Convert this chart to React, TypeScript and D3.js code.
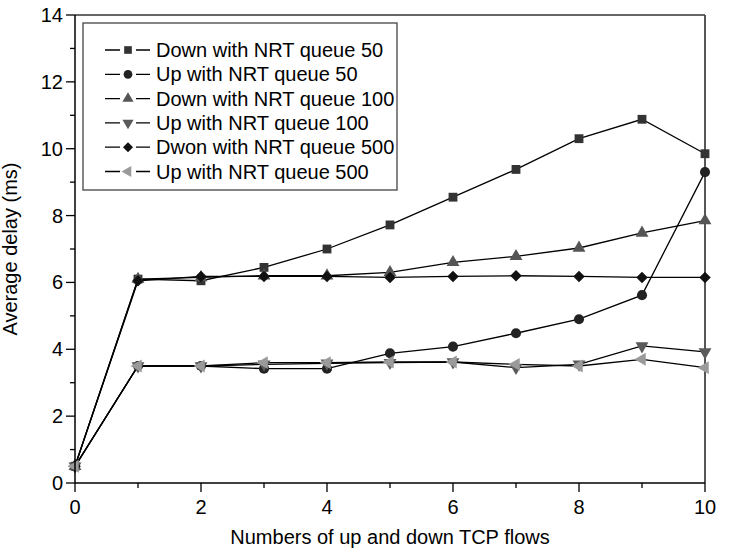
import React from "react";
import * as d3 from "d3";

// Numbers of up and down TCP flows
const flows = [0, 1, 2, 3, 4, 5, 6, 7, 8, 9, 10];

// Average delay (ms) per series
const down50 = [0.5, 6.1, 6.05, 6.45, 7.0, 7.72, 8.55, 9.38, 10.3, 10.88, 9.85];
const up50 = [0.5, 3.5, 3.5, 3.42, 3.42, 3.88, 4.08, 4.48, 4.9, 5.62, 9.3];
const down100 = [0.5, 6.1, 6.15, 6.2, 6.2, 6.3, 6.6, 6.78, 7.03, 7.48, 7.85];
const up100 = [0.5, 3.5, 3.5, 3.55, 3.58, 3.6, 3.62, 3.45, 3.55, 4.1, 3.92];
const down500 = [0.5, 6.05, 6.18, 6.18, 6.18, 6.15, 6.18, 6.2, 6.18, 6.15, 6.15];
const up500 = [0.5, 3.5, 3.5, 3.6, 3.6, 3.62, 3.62, 3.55, 3.5, 3.7, 3.45];

const seriesNames = [
  "Down with NRT queue 50",
  "Up with NRT queue 50",
  "Down with NRT queue 100",
  "Up with NRT queue 100",
  "Dwon with NRT queue 500",
  "Up with NRT queue 500",
];

const xTicks = [0, 2, 4, 6, 8, 10];
const xMinorTicks = [1, 3, 5, 7, 9];
const yTicks = [0, 2, 4, 6, 8, 10, 12, 14];
const yMinorTicks = [1, 3, 5, 7, 9, 11, 13];

type MarkerKind = "square" | "circle" | "triUp" | "triDown" | "diamond" | "triLeft";

const series: { name: string; values: number[]; marker: MarkerKind; fill: string }[] = [
  { name: seriesNames[0], values: down50, marker: "square", fill: "#333333" },
  { name: seriesNames[1], values: up50, marker: "circle", fill: "#222222" },
  { name: seriesNames[2], values: down100, marker: "triUp", fill: "#555555" },
  { name: seriesNames[3], values: up100, marker: "triDown", fill: "#5a5a5a" },
  { name: seriesNames[4], values: down500, marker: "diamond", fill: "#111111" },
  { name: seriesNames[5], values: up500, marker: "triLeft", fill: "#9a9a9a" },
];

const W = 732;
const H = 551;
const margin = { left: 75, right: 27, top: 15, bottom: 68 };
const FONT = "'Liberation Sans', Arial, Helvetica, sans-serif";
const FS = 20;

function markerPath(kind: MarkerKind, scale: number): { d: string; rotate: number } {
  switch (kind) {
    case "square":
      return { d: d3.symbol(d3.symbolSquare, 78 * scale)()!, rotate: 0 };
    case "circle":
      return { d: d3.symbol(d3.symbolCircle, 80 * scale)()!, rotate: 0 };
    case "triUp":
      return { d: d3.symbol(d3.symbolTriangle, 72 * scale)()!, rotate: 0 };
    case "triDown":
      return { d: d3.symbol(d3.symbolTriangle, 72 * scale)()!, rotate: 180 };
    case "triLeft":
      return { d: d3.symbol(d3.symbolTriangle, 72 * scale)()!, rotate: -90 };
    case "diamond":
      return { d: d3.symbol(d3.symbolSquare, 66 * scale)()!, rotate: 45 };
  }
}

export default function App() {
  const x = d3.scaleLinear().domain([0, 10]).range([margin.left, W - margin.right]);
  const y = d3.scaleLinear().domain([0, 14]).range([H - margin.bottom, margin.top]);
  const line = d3
    .line<number>()
    .x((_, i) => x(flows[i]))
    .y((v) => y(v));

  const x0 = x(0);
  const x1 = x(10);
  const y0 = y(0);
  const y1 = y(14);

  const legend = { left: 83, top: 23, right: 397, bottom: 190, rowY0: 50, rowStep: 24.3 };

  return (
    <svg width={W} height={H} style={{ position: "absolute", left: 0, top: 0, background: "#fff" }}>
      <rect x={0} y={0} width={W} height={H} fill="#fff" />

      {/* frame: top and right edges */}
      <line x1={x0} x2={x1} y1={y1} y2={y1} stroke="#333" strokeWidth={1.5} />
      <line x1={x1} x2={x1} y1={y1} y2={y0} stroke="#444" strokeWidth={1.8} />

      {/* series lines */}
      {series.map((s) => (
        <path key={s.name + "-line"} d={line(s.values)!} fill="none" stroke="#000" strokeWidth={1.3} />
      ))}

      {/* series markers */}
      {series.map((s) => {
        const m = markerPath(s.marker, 1);
        return (
          <g key={s.name + "-pts"}>
            {s.values.map((v, i) => (
              <path
                key={i}
                d={m.d}
                transform={`translate(${x(flows[i])},${y(v)}) rotate(${m.rotate})`}
                fill={s.fill}
              />
            ))}
          </g>
        );
      })}

      {/* left axis */}
      <line x1={x0} x2={x0} y1={y1} y2={y0} stroke="#000" strokeWidth={1.5} />
      {yTicks.map((t) => (
        <g key={"yt" + t}>
          <line x1={x0 - 9} x2={x0} y1={y(t)} y2={y(t)} stroke="#000" strokeWidth={1.3} />
          <text
            x={x0 - 12}
            y={y(t)}
            dy="0.35em"
            textAnchor="end"
            fontFamily={FONT}
            fontSize={FS}
            fill="#000"
          >
            {t}
          </text>
        </g>
      ))}
      {yMinorTicks.map((t) => (
        <line key={"ym" + t} x1={x0 - 5} x2={x0} y1={y(t)} y2={y(t)} stroke="#000" strokeWidth={1.3} />
      ))}

      {/* bottom axis */}
      <line x1={x0} x2={x1} y1={y0} y2={y0} stroke="#000" strokeWidth={1.5} />
      {xTicks.map((t) => (
        <g key={"xt" + t}>
          <line x1={x(t)} x2={x(t)} y1={y0} y2={y0 + 9} stroke="#000" strokeWidth={1.3} />
          <text
            x={x(t)}
            y={y0 + 31}
            textAnchor="middle"
            fontFamily={FONT}
            fontSize={FS}
            fill="#000"
          >
            {t}
          </text>
        </g>
      ))}
      {xMinorTicks.map((t) => (
        <line key={"xm" + t} x1={x(t)} x2={x(t)} y1={y0} y2={y0 + 5} stroke="#000" strokeWidth={1.3} />
      ))}

      {/* axis titles */}
      <text
        x={(x0 + x1) / 2}
        y={H - 7}
        textAnchor="middle"
        fontFamily={FONT}
        fontSize={FS}
        fill="#000"
      >
        Numbers of up and down TCP flows
      </text>
      <text
        transform={`translate(${17},${(y0 + y1) / 2}) rotate(-90)`}
        textAnchor="middle"
        fontFamily={FONT}
        fontSize={FS}
        fill="#000"
      >
        Average delay (ms)
      </text>

      {/* legend */}
      <rect
        x={legend.left}
        y={legend.top}
        width={legend.right - legend.left}
        height={legend.bottom - legend.top}
        fill="#fff"
        stroke="#444"
        strokeWidth={1.3}
      />
      {series.map((s, i) => {
        const ly = legend.rowY0 + i * legend.rowStep;
        const m = markerPath(s.marker, 0.75);
        return (
          <g key={s.name + "-leg"}>
            <line x1={105} x2={150} y1={ly} y2={ly} stroke="#000" strokeWidth={1.3} />
            <rect x={120} y={ly - 6} width={16} height={12} fill="#fff" />
            <path d={m.d} transform={`translate(128,${ly}) rotate(${m.rotate})`} fill={s.fill} />
            <text x={156} y={ly} dy="0.35em" fontFamily={FONT} fontSize={FS} fill="#000">
              {s.name}
            </text>
          </g>
        );
      })}
    </svg>
  );
}
